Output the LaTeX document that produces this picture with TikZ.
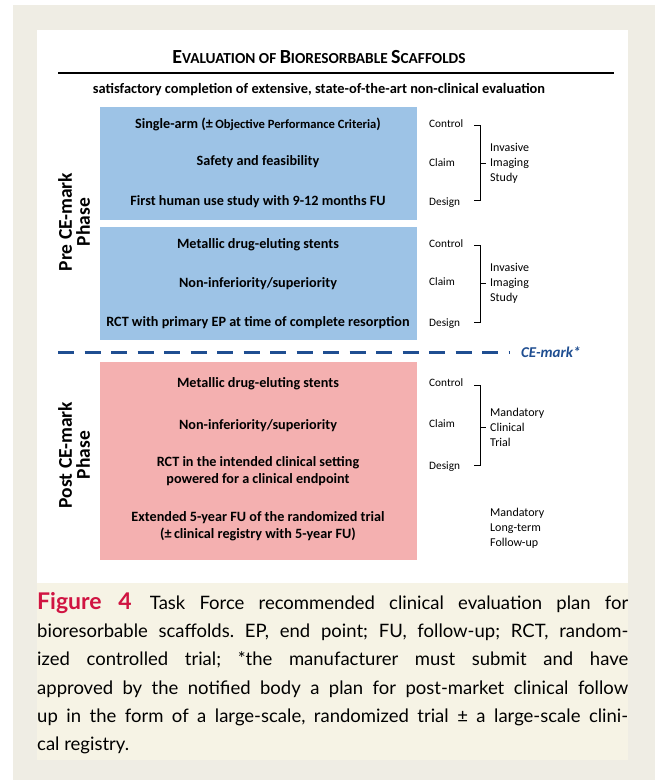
\documentclass[tikz,border=0pt]{standalone}
\usepackage{fontspec}
\setmainfont{Carlito}
\newfontfamily\capfont{Lato}
\usetikzlibrary{positioning}

\definecolor{pagebeige}{RGB}{239,237,228}
\definecolor{capbeige}{RGB}{246,243,229}
\definecolor{boxblue}{RGB}{157,195,230}
\definecolor{boxpink}{RGB}{244,176,176}
\definecolor{markblue}{RGB}{31,78,145}
\definecolor{figred}{RGB}{208,20,66}

\begin{document}
\frenchspacing
\begin{tikzpicture}[x=1pt,y=-1pt,
    rowtext/.style={font=\bfseries\fontsize{14.2}{17}\selectfont, align=center, inner sep=0pt},
    sidetext/.style={font=\fontsize{11.3}{13}\selectfont, anchor=west, inner sep=0pt},
    grouptext/.style={font=\fontsize{12}{15}\selectfont, align=left, anchor=west, inner sep=0pt},
    phasetext/.style={font=\bfseries\fontsize{19.5}{18}\selectfont, align=center, rotate=90, inner sep=0pt},
    bracket/.style={line width=0.6pt},
    capline/.style={anchor=west, inner sep=0pt, font=\capfont\fontsize{18.5}{20}\selectfont}
]
    \useasboundingbox (0,0) rectangle (655,780);

    %----- BACKGROUND -----
    \fill[white] (0,0) rectangle (655,780);
    \fill[pagebeige] (13,5) rectangle (655,780);
    \fill[white] (37,30) rectangle (628,583);
    \fill[capbeige] (37,583) rectangle (628,760);

    %----- TITLE -----
    \node[font=\bfseries] (title) at (319,57)
        {{\fontsize{20}{22}\selectfont E}{\fontsize{15.3}{17}\selectfont VALUATION OF }{\fontsize{20}{22}\selectfont B}{\fontsize{15.3}{17}\selectfont IORESORBABLE }{\fontsize{20}{22}\selectfont S}{\fontsize{15.3}{17}\selectfont CAFFOLDS}};
    \draw[line width=2.5pt] (58,73) -- (614,73);
    \node[rowtext, font=\bfseries\fontsize{14.4}{17}\selectfont] (prereq) at (319,90)
        {satisfactory completion of extensive, state-of-the-art non-clinical evaluation};

    %----- BOXES -----
    \fill[boxblue] (100,107) rectangle (417,220);
    \fill[boxblue] (100,227) rectangle (417,340);
    \fill[boxpink] (100,362) rectangle (417,560);

    %----- PRE CE-MARK: FIRST STUDY -----
    \node[rowtext] (ctrlA) at (258,124)
        {Single-arm (\textpm\,{\fontsize{12.6}{15}\selectfont Objective Performance Criteria})};
    \node[rowtext] (claimA) at (258,162) {Safety and feasibility};
    \node[rowtext] (designA) at (258,202) {First human use study with 9-12 months FU};

    \node[sidetext] (ctrlAlab) at (429,124) {Control};
    \node[sidetext] (claimAlab) at (429,163) {Claim};
    \node[sidetext] (designAlab) at (429,203) {Design};

    \coordinate (topA) at (480,125);
    \coordinate (botA) at (480,200);
    \coordinate (midA) at (480,163);
    \draw[bracket] ([xshift=-6pt]topA) -- (topA) -- (botA) -- ([xshift=-6pt]botA);
    \draw[bracket] (midA) -- ([xshift=6pt]midA);
    \node[grouptext] (groupA) at (490,163) {Invasive\\Imaging\\Study};

    %----- PRE CE-MARK: SECOND STUDY -----
    \node[rowtext] (ctrlB) at (258,245) {Metallic drug-eluting stents};
    \node[rowtext] (claimB) at (258,284) {Non-inferiority/superiority};
    \node[rowtext] (designB) at (258,323) {RCT with primary EP at time of complete resorption};

    \node[sidetext] (ctrlBlab) at (429,244) {Control};
    \node[sidetext] (claimBlab) at (429,282) {Claim};
    \node[sidetext] (designBlab) at (429,324) {Design};

    \coordinate (topB) at (480,245);
    \coordinate (botB) at (480,322);
    \coordinate (midB) at (480,283);
    \draw[bracket] ([xshift=-6pt]topB) -- (topB) -- (botB) -- ([xshift=-6pt]botB);
    \draw[bracket] (midB) -- ([xshift=6pt]midB);
    \node[grouptext] (groupB) at (490,283) {Invasive\\Imaging\\Study};

    \node[phasetext] (prephase) at (74,222) {Pre CE-mark\\Phase};

    %----- CE-MARK LINE -----
    \coordinate (dashL) at (58,352);
    \node[font=\bfseries\itshape\fontsize{15}{17}\selectfont, text=markblue, anchor=west, inner sep=0pt]
        (cemark) at (521,352) {CE-mark*};
    \draw[markblue, line width=3pt, dash pattern=on 16pt off 10.5pt] (dashL) -- ([xshift=-11pt]cemark.west);

    %----- POST CE-MARK -----
    \node[rowtext] (ctrlC) at (258,384) {Metallic drug-eluting stents};
    \node[rowtext] (claimC) at (258,426) {Non-inferiority/superiority};
    \node[rowtext] (designC) at (258,471) {RCT in the intended clinical setting\\powered for a clinical endpoint};
    \node[rowtext] (followC) at (258,526) {Extended 5-year FU of the randomized trial\\(\textpm\,clinical registry with 5-year FU)};

    \node[sidetext] (ctrlClab) at (429,383) {Control};
    \node[sidetext] (claimClab) at (429,424) {Claim};
    \node[sidetext] (designClab) at (429,467) {Design};

    \coordinate (topC) at (480,385);
    \coordinate (botC) at (480,465);
    \coordinate (midC) at (480,427);
    \draw[bracket] ([xshift=-6pt]topC) -- (topC) -- (botC) -- ([xshift=-6pt]botC);
    \draw[bracket] (midC) -- ([xshift=6pt]midC);
    \node[grouptext] (groupC) at (490,427) {Mandatory\\Clinical\\Trial};
    \node[grouptext] (groupD) at (490,528) {Mandatory\\Long-term\\Follow-up};

    \node[phasetext] (postphase) at (74,455) {Post CE-mark\\Phase};

    %----- CAPTION -----
    \node[capline] (cap1) at (37,603) {\makebox[591pt][s]{{\bfseries\fontsize{23}{24}\selectfont\color{figred}Figure 4}\hspace{4pt} Task Force recommended clinical evaluation plan for}};
    \node[capline] (cap2) at (37,632) {\makebox[591pt][s]{bioresorbable scaffolds. EP, end point; FU, follow-up; RCT, random-}};
    \node[capline] (cap3) at (37,660) {\makebox[591pt][s]{ized controlled trial; *the manufacturer must submit and have}};
    \node[capline] (cap4) at (37,689) {\makebox[591pt][s]{approved by the notified body a plan for post-market clinical follow}};
    \node[capline] (cap5) at (37,717) {\makebox[591pt][s]{up in the form of a large-scale, randomized trial \textpm\ a large-scale clini-}};
    \node[capline] (cap6) at (37,745) {cal registry.};

\end{tikzpicture}
\end{document}
